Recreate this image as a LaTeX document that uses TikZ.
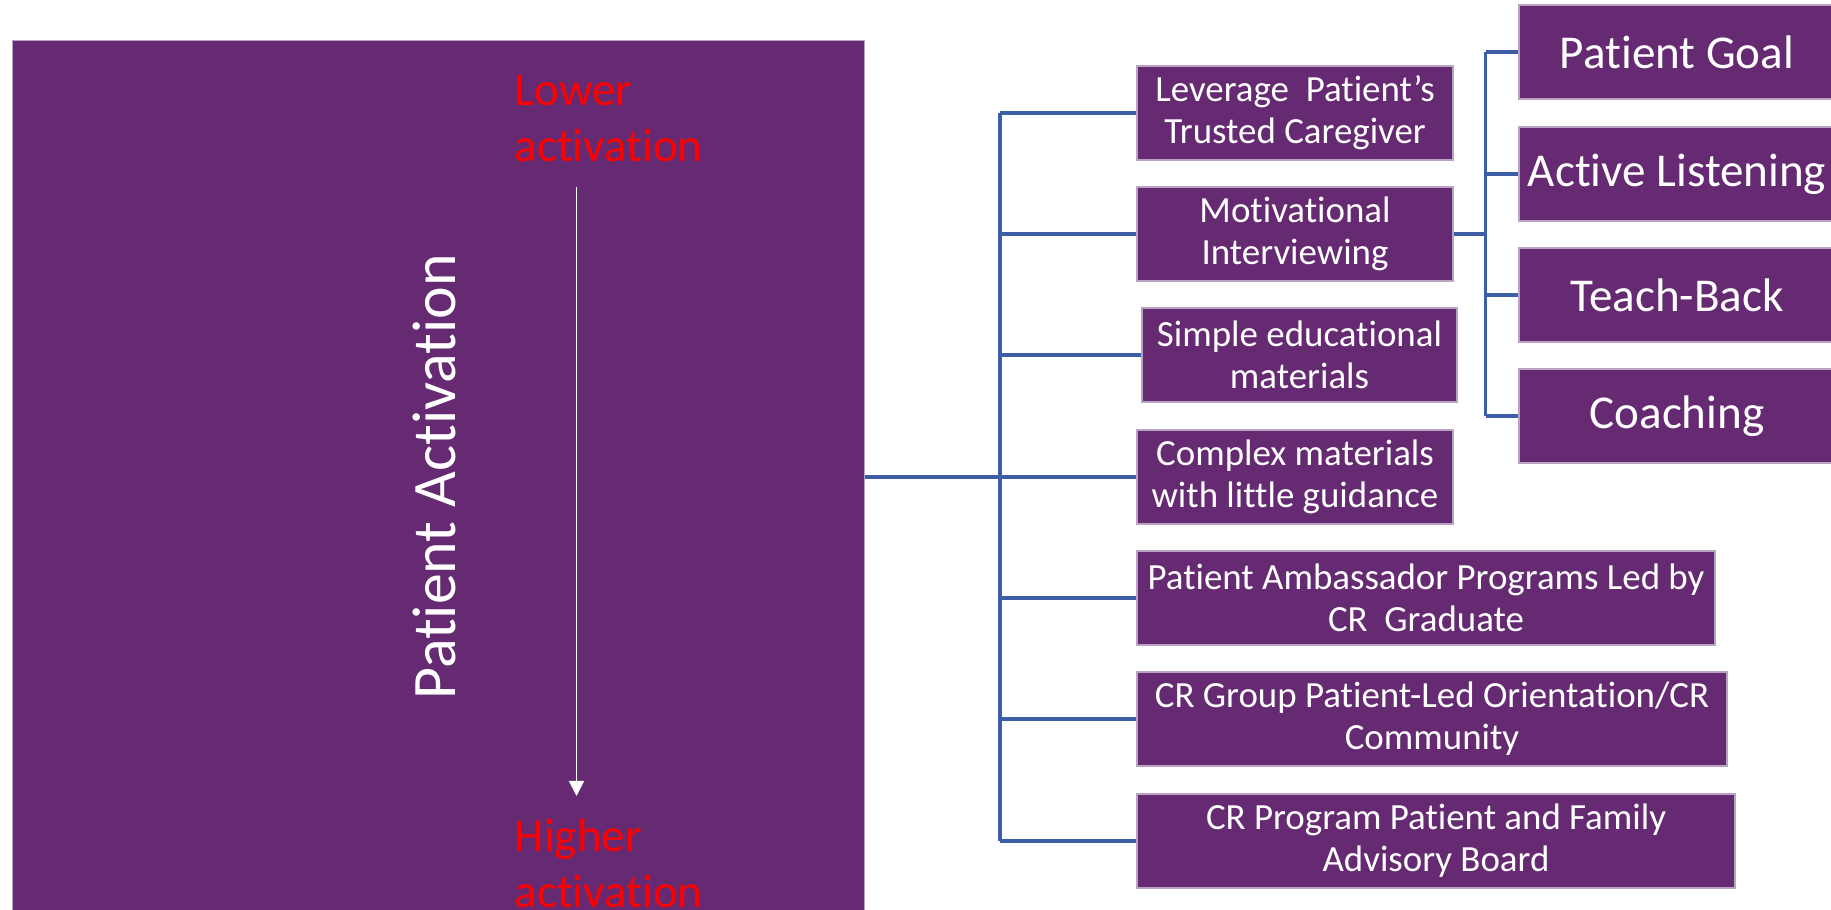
\documentclass[tikz,border=0pt]{standalone}
\usepackage{fontspec}
\setmainfont{Carlito}[Ligatures=NoCommon]
\usepackage{tikz}
\usetikzlibrary{arrows.meta, positioning}

\definecolor{tim}{HTML}{662A73}
\definecolor{xanh}{HTML}{3B5EA6}
\definecolor{vien}{HTML}{B9A3C2}

\tikzset{
  box/.style={fill=tim, draw=vien, line width=0.4pt, text=white, align=center,
    inner sep=0pt, minimum height=0.94cm, font=\fontsize{10.5}{11.9}\selectfont},
  bigbox/.style={box, minimum width=3.16cm, font=\fontsize{13.4}{16}\selectfont},
  branch/.style={xanh, line width=0.9pt},
  redtext/.style={text=red, align=left, inner sep=0pt, anchor=base west,
    font=\fontsize{13.4}{16.1}\selectfont}
}

\begin{document}
\begin{tikzpicture}
    \useasboundingbox (0,0) rectangle (18.31,9.10);
    % 1. Khối Patient Activation
    \node[fill=tim, draw=vien, line width=0.4pt, inner sep=0pt, anchor=south west,
        minimum width=8.52cm, minimum height=8.74cm] (pa) at (0.12,-0.05) {};
    \node[rotate=90, anchor=base, text=white, font=\fontsize{17.6}{21}\selectfont]
        (patxt) at (4.55,4.33) {Patient Activation};
    % (base = dòng cuối)
    \node[redtext] (low) at (5.14,7.483) {Lower\\activation};
    \node[redtext] (high) at (5.14,0.02) {Higher\\activation};
    \coordinate (a1) at (5.765,7.23);
    \coordinate (a2) at (5.765,1.14);
    \draw[white, line width=0.55pt, -{Triangle[width=4.3pt, length=4.3pt]}] (a1) -- (a2);

    % 2. Các hộp chiến lược
    \node[box, minimum width=3.16cm] (b1) at (12.95,7.97) {Leverage~ Patient’s\\Trusted Caregiver};
    \node[box, minimum width=3.16cm] (b2) at (12.95,6.76) {Motivational\\Interviewing};
    \node[box, minimum width=3.15cm] (b3) at (12.995,5.55) {Simple educational\\materials};
    \node[box, minimum width=3.16cm] (b4) at (12.95,4.33) {Complex materials\\with little guidance};
    \node[box, minimum width=5.78cm] (b5) at (14.26,3.12) {Patient Ambassador Programs Led by\\CR~ Graduate};
    \node[box, minimum width=5.90cm] (b6) at (14.32,1.91) {CR Group Patient-Led Orientation/CR\\Community};
    \node[box, minimum width=5.98cm] (b7) at (14.36,0.69) {CR Program Patient and Family\\Advisory Board};

    % 3. Các hộp của Motivational Interviewing
    \node[bigbox] (g1) at (16.77,8.58) {Patient Goal};
    \node[bigbox] (g2) at (16.77,7.36) {Active Listening};
    \node[bigbox] (g3) at (16.77,6.15) {Teach-Back};
    \node[bigbox] (g4) at (16.77,4.94) {Coaching};

    % 4. Đường nối
    \coordinate (tr) at (10.00,4.33);
    \draw[branch, line width=1.1pt] (pa.east |- tr) -- (tr);
    \draw[branch] (tr |- b1.west) -- (tr |- b7.west);
    \foreach \b in {b1,b2,b3,b4,b5,b6,b7} {
        \draw[branch] (tr |- \b.west) -- (\b.west);
    }
    \coordinate (tm) at (14.855,6.76);
    \draw[branch] (b2.east) -- (tm);
    \draw[branch] (tm |- g1.west) -- (tm |- g4.west);
    \foreach \g in {g1,g2,g3,g4} {
        \draw[branch] (tm |- \g.west) -- (\g.west);
    }
\end{tikzpicture}
\end{document}
